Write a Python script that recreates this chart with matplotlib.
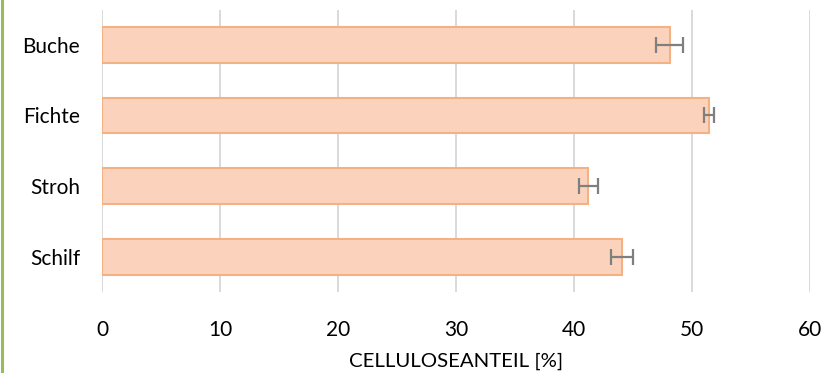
import matplotlib
matplotlib.use("Agg")
import matplotlib.pyplot as plt
from matplotlib.lines import Line2D

categories = ["Buche", "Fichte", "Stroh", "Schilf"]
values = [48.1, 51.45, 41.2, 44.05]
errors = [1.15, 0.42, 0.78, 0.95]
xticks = [0, 10, 20, 30, 40, 50, 60]
xlabel = "CELLULOSEANTEIL [%]"

plt.rcParams['font.family'] = ['Lato', 'DejaVu Sans']

W, H = 838, 373
fig = plt.figure(figsize=(W / 100, H / 100), dpi=100)
ax = fig.add_axes([102.3 / W, 1 - 292 / H, 708 / W, (292 - 9.5) / H])

ypos = list(range(len(categories)))
ax.barh(ypos, values, height=0.507, color="#FBD3BD", edgecolor="#F4B183",
        linewidth=1.5, zorder=2)
ax.errorbar(values, ypos, xerr=errors, fmt="none", ecolor="#7F7F7F",
            elinewidth=1.6, capsize=5.5, capthick=1.6, zorder=3)

ax.set_xlim(0, 60)
ax.set_ylim(3.5, -0.5)
ax.set_xticks(xticks)
ax.set_xticklabels([str(t) for t in xticks])
ax.set_yticks(ypos)
ax.set_yticklabels(categories)
ax.tick_params(axis="both", length=0, labelsize=15, colors="#000000")
ax.tick_params(axis="y", pad=16)
ax.tick_params(axis="x", pad=20)
ax.xaxis.grid(True, color="#D9D9D9", linewidth=1.4, zorder=0)
ax.set_axisbelow(True)
for s in ax.spines.values():
    s.set_visible(False)
ax.set_xlabel(xlabel, fontsize=14.7, labelpad=9)

fig.add_artist(Line2D([2 / W, 2 / W], [0, 1], transform=fig.transFigure,
                      color="#9BBB59", linewidth=2.2))

fig.savefig("out.png", dpi=100)
